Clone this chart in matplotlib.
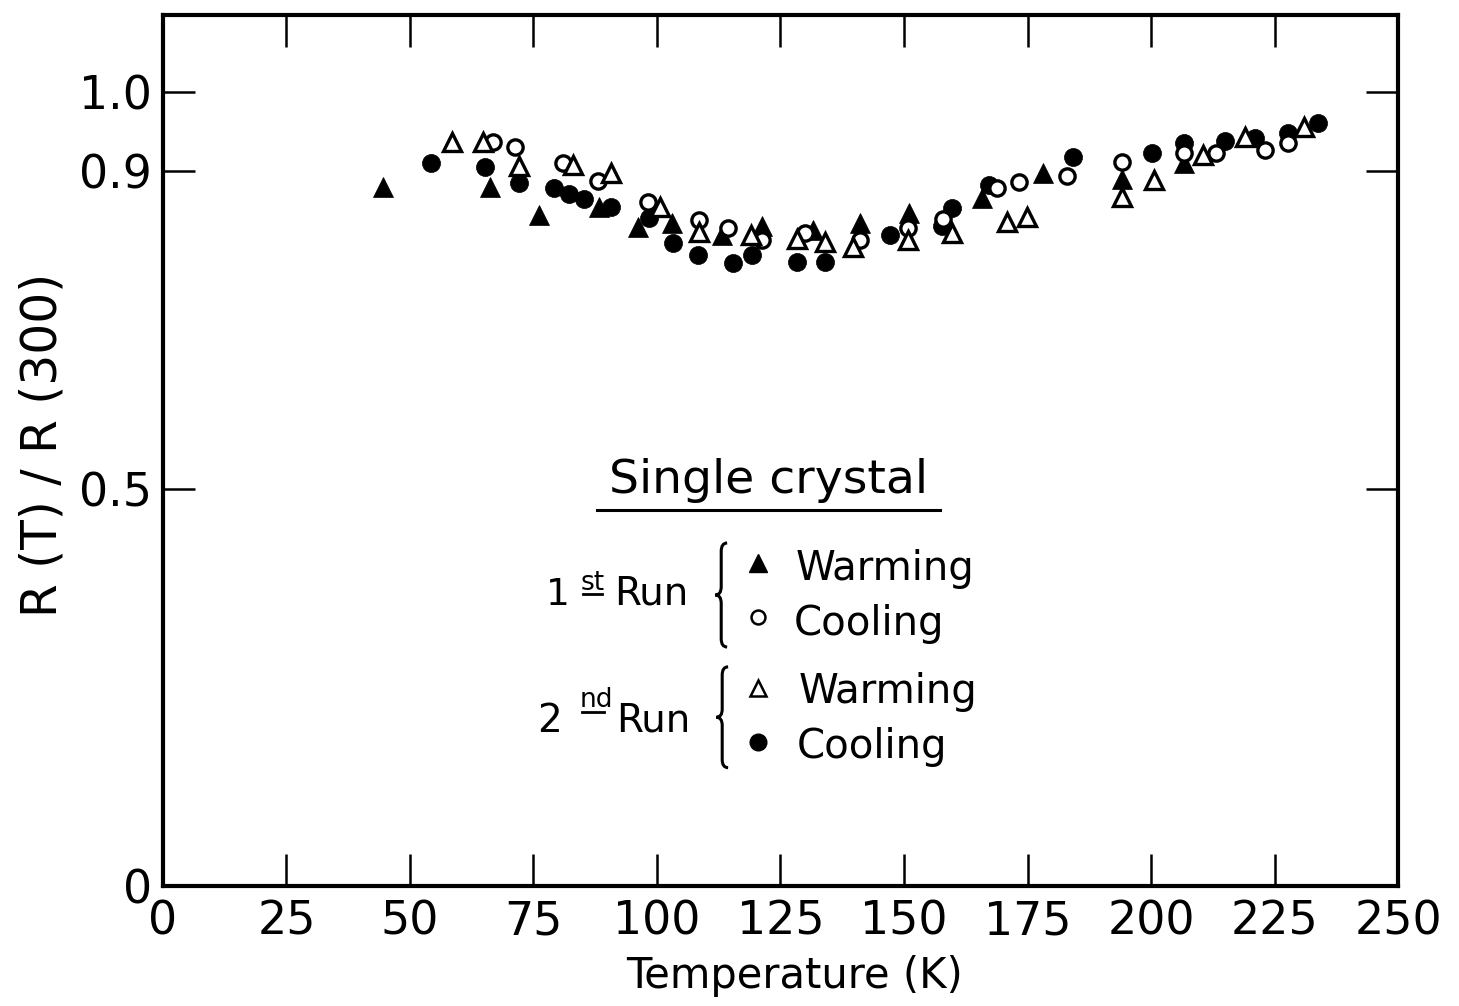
import matplotlib
matplotlib.use("Agg")
import matplotlib.pyplot as plt
from matplotlib.path import Path
from matplotlib.patches import PathPatch

plt.rcParams['font.family'] = ['DejaVu Sans']

# 1st run, warming (filled triangles)
run1_warm_T = [44.5, 66.2, 76.1, 88.3, 96.2, 103.0, 113.2, 121.3, 131.6, 141.1, 151.0, 165.8, 178.1, 194.1, 206.7]
run1_warm_R = [0.880, 0.880, 0.845, 0.855, 0.830, 0.835, 0.820, 0.831, 0.826, 0.835, 0.847, 0.866, 0.898, 0.890, 0.911]

# 1st run, cooling (open circles)
run1_cool_T = [66.8, 71.3, 81.0, 88.1, 98.2, 108.5, 114.4, 121.3, 130.0, 141.1, 150.8, 157.9, 168.8, 173.3, 183.0,
               194.1, 206.7, 213.2, 223.1, 227.7]
run1_cool_R = [0.937, 0.931, 0.910, 0.888, 0.861, 0.839, 0.829, 0.814, 0.822, 0.814, 0.829, 0.840, 0.879, 0.887, 0.894,
               0.912, 0.923, 0.923, 0.927, 0.936]

# 2nd run, warming (open triangles)
run2_warm_T = [58.5, 64.8, 72.1, 83.0, 90.7, 100.6, 108.5, 119.0, 128.3, 134.0, 139.7, 150.8, 159.7, 170.8, 174.9,
               194.1, 200.6, 210.5, 219.0, 231.0]
run2_warm_R = [0.937, 0.937, 0.907, 0.908, 0.898, 0.855, 0.824, 0.820, 0.815, 0.811, 0.805, 0.814, 0.822, 0.836, 0.843,
               0.868, 0.889, 0.921, 0.943, 0.956]

# 2nd run, cooling (filled circles)
run2_cool_T = [54.3, 65.2, 72.1, 79.1, 82.2, 85.2, 90.7, 98.4, 103.2, 108.3, 115.4, 119.2, 128.3, 134.0, 147.2,
               157.7, 159.7, 167.2, 184.2, 200.2, 206.7, 215.0, 221.1, 227.7, 233.8]
run2_cool_R = [0.911, 0.906, 0.885, 0.879, 0.872, 0.865, 0.855, 0.841, 0.810, 0.795, 0.785, 0.795, 0.786, 0.786, 0.820,
               0.831, 0.854, 0.883, 0.918, 0.923, 0.936, 0.938, 0.942, 0.948, 0.961]

x_ticks = [0, 25, 50, 75, 100, 125, 150, 175, 200, 225, 250]
y_ticks = [0, 0.5, 0.9, 1.0]
y_tick_labels = ["0", "0.5", "0.9", "1.0"]

fig = plt.figure(figsize=(14.59, 10.06), dpi=100)
ax = fig.add_axes([0.1117, 0.1193, 0.8465, 0.8658])

# data
ax.plot(run1_warm_T, run1_warm_R, '^', color='black', markersize=14.5, markeredgewidth=0.5, zorder=3)
ax.plot(run2_cool_T, run2_cool_R, 'o', color='black', markersize=13, markeredgewidth=0.5, zorder=3)
ax.plot(run1_cool_T, run1_cool_R, 'o', markerfacecolor='white', markeredgecolor='black',
        markersize=11, markeredgewidth=2.4, zorder=4)
ax.plot(run2_warm_T, run2_warm_R, '^', markerfacecolor='white', markeredgecolor='black',
        markersize=13.5, markeredgewidth=2.4, zorder=4)

ax.set_xlim(0, 250)
ax.set_ylim(0, 1.097)
ax.set_xticks(x_ticks)
ax.set_yticks(y_ticks)
ax.set_yticklabels(y_tick_labels)
ax.tick_params(axis='both', direction='in', top=True, right=True, length=23, width=1.8, labelsize=33)
ax.tick_params(axis='x', pad=10)
ax.tick_params(axis='y', pad=8)
for s in ax.spines.values():
    s.set_linewidth(3)

ax.set_xlabel("Temperature (K)", fontsize=30)
ax.xaxis.set_label_coords(0.511, -0.079)
ax.set_ylabel("R (T) / R (300)", fontsize=35)
ax.yaxis.set_label_coords(-0.078, 0.506)

# legend block drawn as text
ax.text(122.5, 0.495, "Single crystal", fontsize=34, ha='center', va='baseline')
ax.plot([87.9, 157.3], [0.474, 0.474], color='black', lw=2.2)

ax.text(77.6, 0.354, "1", fontsize=27, ha='left', va='baseline')
ax.text(84.6, 0.373, "st", fontsize=19, ha='left', va='baseline')
ax.plot([85.0, 88.8], [0.368, 0.368], color='black', lw=2)
ax.text(91.3, 0.354, "Run", fontsize=28, ha='left', va='baseline')

ax.text(75.8, 0.194, "2", fontsize=28, ha='left', va='baseline')
ax.text(84.4, 0.226, "nd", fontsize=19, ha='left', va='baseline')
ax.plot([84.8, 89.2], [0.219, 0.219], color='black', lw=2)
ax.text(91.7, 0.194, "Run", fontsize=28, ha='left', va='baseline')


def brace(x, y0, y1, w):
    ym = (y0 + y1) / 2
    e = (y1 - y0) * 0.08
    verts = [(x + w / 2, y1), (x, y1), (x, y1 - e),
             (x, ym + e), (x, ym), (x - w / 2, ym),
             (x, ym), (x, ym - e),
             (x, y0 + e), (x, y0), (x + w / 2, y0)]
    codes = [Path.MOVETO, Path.CURVE3, Path.CURVE3,
             Path.LINETO, Path.CURVE3, Path.CURVE3,
             Path.CURVE3, Path.CURVE3,
             Path.LINETO, Path.CURVE3, Path.CURVE3]
    ax.add_patch(PathPatch(Path(verts, codes), fill=False, lw=2.2, edgecolor='black'))


brace(113.0, 0.301, 0.432, 2.4)
brace(113.2, 0.149, 0.276, 2.4)

ax.plot([120.4], [0.407], '^', color='black', markersize=13)
ax.plot([120.4], [0.339], 'o', markerfacecolor='white', markeredgecolor='black', markersize=10, markeredgewidth=1.8)
ax.plot([120.4], [0.249], '^', markerfacecolor='white', markeredgecolor='black', markersize=12, markeredgewidth=1.8)
ax.plot([120.4], [0.181], 'o', color='black', markersize=12)

ax.text(128.0, 0.385, "Warming", fontsize=29, ha='left', va='baseline')
ax.text(127.7, 0.316, "Cooling", fontsize=29, ha='left', va='baseline')
ax.text(128.6, 0.230, "Warming", fontsize=29, ha='left', va='baseline')
ax.text(128.3, 0.161, "Cooling", fontsize=29, ha='left', va='baseline')

plt.savefig('out.png', dpi=100)
